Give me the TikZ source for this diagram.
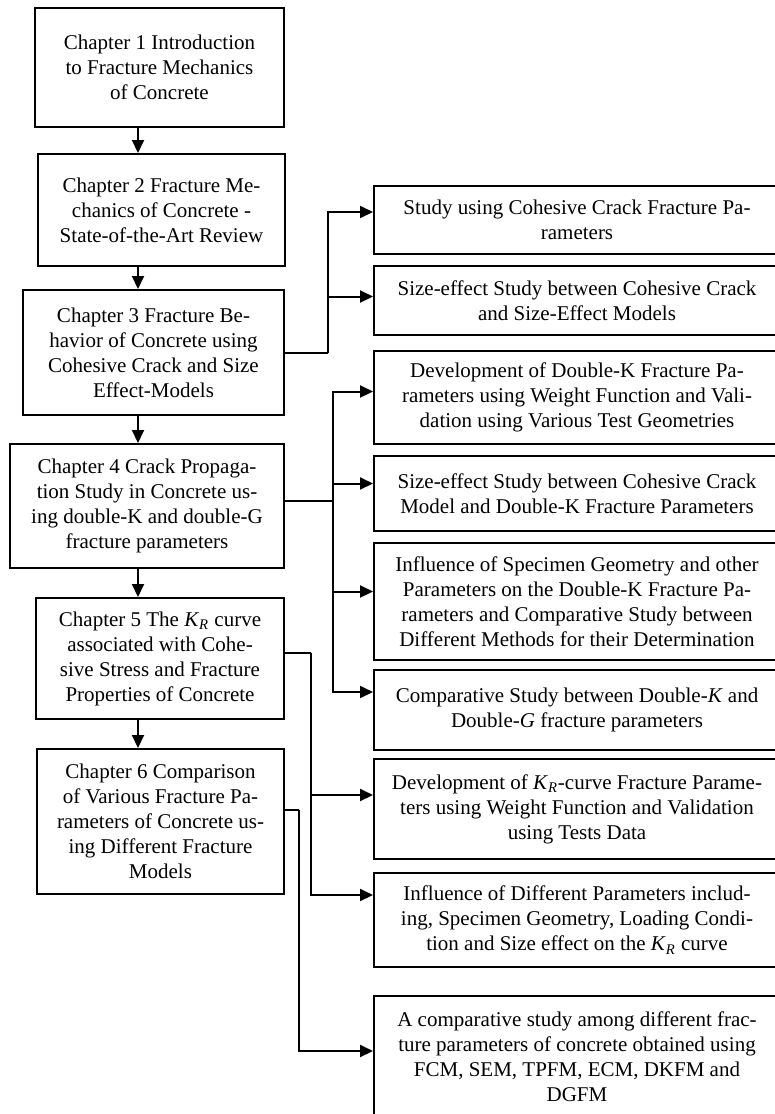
\documentclass[tikz,border=0pt]{standalone}
\usepackage{fontspec}
\setmainfont{Liberation Serif}
\usetikzlibrary{arrows.meta, positioning}
\newcommand{\KR}{\textit{K}\textsubscript{\textit{R}}}

\begin{document}
\begin{tikzpicture}[x=0.5pt,y=-0.5pt,line width=1pt,>={Triangle[length=6.5pt,width=6pt]}]
    \tikzstyle{chapter}=[shape=rectangle,draw,line width=1pt,align=center,inner sep=0pt,font=\fontsize{10.5}{12.5}\selectfont]
    \tikzstyle{study}=[chapter,anchor=west,minimum width=203pt]

    \useasboundingbox (0,0) rectangle (775,1114);
    \clip (0,0) rectangle (775,1114);

    % chapters on the left
    \node[chapter, minimum width=124.5pt, minimum height=59.5pt] (C1) at (159.5,67.5) {Chapter 1 Introduction\\to Fracture Mechanics\\of Concrete};
    \node[chapter, minimum width=123.5pt, minimum height=56pt] (C2) at (161.5,210) {Chapter 2 Fracture Me-\\chanics of Concrete -\\State-of-the-Art Review};
    \node[chapter, minimum width=130.5pt, minimum height=62.5pt] (C3) at (153.5,352.5) {Chapter 3 Fracture Be-\\havior of Concrete using\\Cohesive Crack and Size\\Effect-Models};
    \node[chapter, minimum width=137pt, minimum height=62pt] (C4) at (147,506) {Chapter 4 Crack Propaga-\\tion Study in Concrete us-\\ing double-K and double-G\\fracture parameters};
    \node[chapter, minimum width=124pt, minimum height=60.5pt] (C5) at (160,658.5) {Chapter 5 The \KR{} curve\\associated with Cohe-\\sive Stress and Fracture\\Properties of Concrete};
    \node[chapter, minimum width=123.5pt, minimum height=72.5pt] (C6) at (160.5,821.5) {Chapter 6 Comparison\\of Various Fracture Pa-\\rameters of Concrete us-\\ing Different Fracture\\Models};

    % studies on the right
    \node[study, minimum height=34pt] (S1) at (373,220) {Study using Cohesive Crack Fracture Pa-\\rameters};
    \node[study, minimum height=34.5pt] (S2) at (373,300.5) {Size-effect Study between Cohesive Crack\\and Size-Effect Models};
    \node[study, minimum height=46.5pt] (S3) at (373,397.5) {Development of Double-K Fracture Pa-\\rameters using Weight Function and Vali-\\dation using Various Test Geometries};
    \node[study, minimum height=37.5pt] (S4) at (373,493.5) {Size-effect Study between Cohesive Crack\\Model and Double-K Fracture Parameters};
    \node[study, minimum height=58.5pt] (S5) at (373,601.5) {Influence of Specimen Geometry and other\\Parameters on the Double-K Fracture Pa-\\rameters and Comparative Study between\\Different Methods for their Determination};
    \node[study, minimum height=40pt] (S6) at (373,710) {Comparative Study between Double-\textit{K} and\\Double-\textit{G} fracture parameters};
    \node[study, minimum height=50pt] (S7) at (373,809) {Development of \KR-curve Fracture Parame-\\ters using Weight Function and Validation\\using Tests Data};
    \node[study, minimum height=47pt] (S8) at (373,920) {Influence of Different Parameters includ-\\ing, Specimen Geometry, Loading Condi-\\tion and Size effect on the \KR{} curve};
    \node[study, minimum height=61pt] (S9) at (373,1057) {A comparative study among different frac-\\ture parameters of concrete obtained using\\FCM, SEM, TPFM, ECM, DKFM and\\DGFM};

    \coordinate (spine) at (138,0);
    \coordinate (bus3) at (328,0);
    \coordinate (bus4) at (333,0);
    \coordinate (bus5) at (311,0);
    \coordinate (bus6) at (299,0);

    \path
    (C1.south -| spine) edge[->] (C2.north -| spine)
    (C2.south -| spine) edge[->] (C3.north -| spine)
    (C3.south -| spine) edge[->] (C4.north -| spine)
    (C4.south -| spine) edge[->] (C5.north -| spine)
    (C5.south -| spine) edge[->] (C6.north -| spine)
    ;

    \draw (C3.east) -- (C3.east -| bus3);
    \draw[->] (C3.east -| bus3) |- ([yshift=4pt]S1.west);
    \draw[->] (C3.east -| bus3) |- ([yshift=2pt]S2.west);

    \draw ([yshift=2.5pt]C4.east) -- ([yshift=2.5pt]C4.east -| bus4);
    \draw[->] ([yshift=2.5pt]C4.east -| bus4) |- ([yshift=3pt]S3.west);
    \draw[->] ([yshift=2.5pt]C4.east -| bus4) |- ([yshift=5pt]S4.west);
    \draw[->] ([yshift=2.5pt]C4.east -| bus4) |- ([yshift=5pt]S5.west);
    \draw[->] ([yshift=2.5pt]C4.east -| bus4) |- ([yshift=9pt]S6.west);

    \draw ([yshift=3pt]C5.east) -- ([yshift=3pt]C5.east -| bus5);
    \draw[->] ([yshift=3pt]C5.east -| bus5) |- ([yshift=7pt]S7.west);
    \draw[->] ([yshift=3pt]C5.east -| bus5) |- ([yshift=12.5pt]S8.west);

    \draw ([yshift=6pt]C6.east) -- ([yshift=6pt]C6.east -| bus6);
    \draw[->] ([yshift=6pt]C6.east -| bus6) |- ([yshift=3pt]S9.west);

\end{tikzpicture}
\end{document}
